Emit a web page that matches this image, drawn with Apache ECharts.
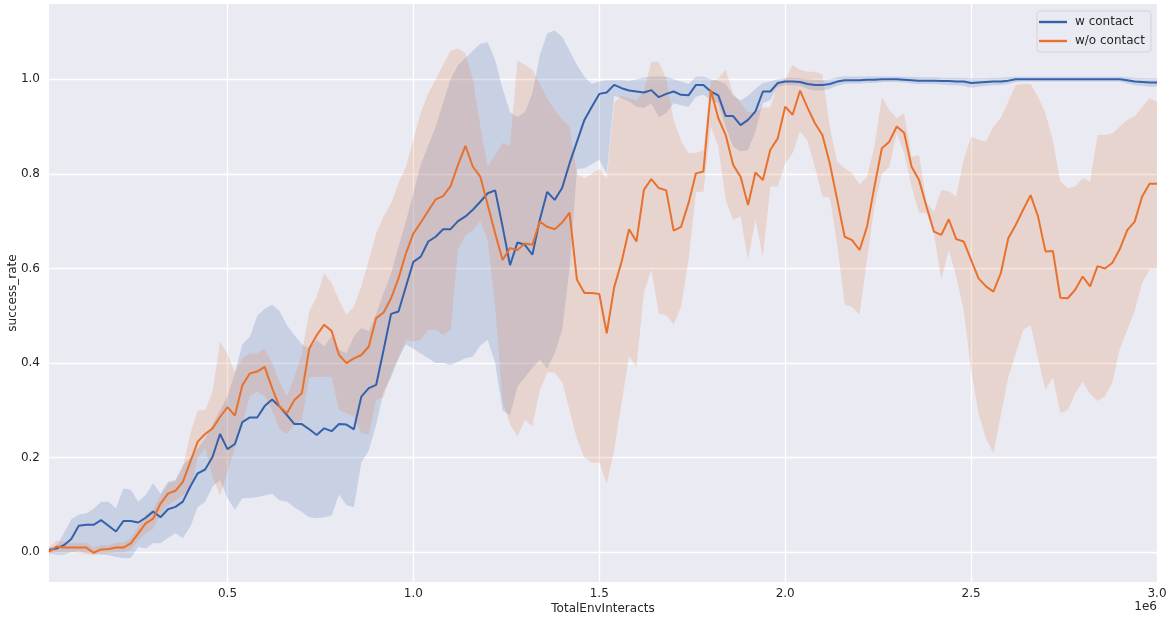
<!DOCTYPE html>
<html>
<head>
<meta charset="utf-8">
<script src="https://cdn.jsdelivr.net/npm/echarts@6/dist/echarts.min.js"></script>
<style>
html,body{margin:0;padding:0;background:#ffffff;}
#chart{width:1170px;height:621px;}
</style>
</head>
<body>
<div id="chart"></div>
<script>
// environment interaction counts (x)
const steps = [20000,40000,60000,80000,100000,120000,140000,160000,180000,200000,
220000,240000,260000,280000,300000,320000,340000,360000,380000,400000,
420000,440000,460000,480000,500000,520000,540000,560000,580000,600000,
620000,640000,660000,680000,700000,720000,740000,760000,780000,800000,
820000,840000,860000,880000,900000,920000,940000,960000,980000,1000000,
1020000,1040000,1060000,1080000,1100000,1120000,1140000,1160000,1180000,1200000,
1220000,1240000,1260000,1280000,1300000,1320000,1340000,1360000,1380000,1400000,
1420000,1440000,1460000,1480000,1500000,1520000,1540000,1560000,1580000,1600000,
1620000,1640000,1660000,1680000,1700000,1720000,1740000,1760000,1780000,1800000,
1820000,1840000,1860000,1880000,1900000,1920000,1940000,1960000,1980000,2000000,
2020000,2040000,2060000,2080000,2100000,2120000,2140000,2160000,2180000,2200000,
2220000,2240000,2260000,2280000,2300000,2320000,2340000,2360000,2380000,2400000,
2420000,2440000,2460000,2480000,2500000,2520000,2540000,2560000,2580000,2600000,
2620000,2640000,2660000,2680000,2700000,2720000,2740000,2760000,2780000,2800000,
2820000,2840000,2860000,2880000,2900000,2920000,2940000,2960000,2980000,3000000];

// "w contact" mean success rate
const wMean = [0.005,0.008,0.015,0.028,0.056,0.058,0.058,0.068,0.056,0.044,
0.066,0.066,0.063,0.073,0.086,0.074,0.091,0.096,0.107,0.139,
0.167,0.175,0.202,0.250,0.218,0.229,0.275,0.285,0.285,0.309,
0.323,0.308,0.290,0.271,0.271,0.260,0.248,0.262,0.256,0.271,
0.270,0.260,0.329,0.347,0.354,0.428,0.504,0.509,0.562,0.614,
0.625,0.657,0.667,0.683,0.683,0.700,0.710,0.724,0.741,0.759,
0.765,0.688,0.607,0.655,0.650,0.629,0.703,0.762,0.745,0.770,
0.822,0.868,0.914,0.942,0.969,0.972,0.988,0.981,0.976,0.974,
0.972,0.977,0.962,0.969,0.974,0.967,0.966,0.988,0.988,0.974,
0.966,0.922,0.922,0.903,0.914,0.932,0.974,0.974,0.992,0.995,
0.995,0.994,0.990,0.988,0.988,0.990,0.995,0.998,0.998,0.998,
0.999,0.999,1.000,1.000,1.000,0.999,0.998,0.997,0.997,0.997,
0.996,0.996,0.995,0.995,0.992,0.993,0.994,0.995,0.995,0.997,
1.000,1.000,1.000,1.000,1.000,1.000,1.000,1.000,1.000,1.000,
1.000,1.000,1.000,1.000,1.000,0.998,0.995,0.994,0.993,0.993];
const wLo = [0.000,-0.005,-0.005,0.000,0.002,-0.001,-0.003,-0.004,-0.006,-0.010,
-0.012,-0.012,0.011,0.008,0.019,0.019,0.030,0.040,0.030,0.054,
0.096,0.107,0.139,0.153,0.114,0.090,0.114,0.114,0.117,0.120,
0.124,0.110,0.107,0.095,0.085,0.074,0.072,0.074,0.078,0.122,
0.100,0.095,0.190,0.215,0.270,0.340,0.370,0.410,0.440,0.430,
0.420,0.410,0.400,0.400,0.396,0.403,0.410,0.414,0.437,0.449,
0.400,0.300,0.290,0.350,0.370,0.390,0.407,0.389,0.420,0.470,
0.600,0.810,0.812,0.820,0.830,0.800,0.965,0.960,0.953,0.942,
0.939,0.949,0.920,0.928,0.949,0.945,0.942,0.963,0.967,0.956,
0.949,0.900,0.858,0.847,0.850,0.890,0.949,0.956,0.984,0.987,
0.987,0.986,0.980,0.976,0.976,0.980,0.986,0.990,0.991,0.991,
0.992,0.992,0.994,0.994,0.994,0.993,0.991,0.990,0.990,0.990,
0.989,0.988,0.987,0.986,0.982,0.984,0.986,0.987,0.988,0.990,
0.994,0.995,0.995,0.995,0.995,0.995,0.995,0.995,0.995,0.995,
0.995,0.995,0.995,0.995,0.995,0.991,0.987,0.986,0.984,0.984];
const wHi = [0.010,0.012,0.040,0.070,0.080,0.082,0.092,0.107,0.107,0.093,
0.135,0.132,0.107,0.121,0.146,0.124,0.149,0.153,0.184,0.200,
0.220,0.240,0.270,0.300,0.330,0.380,0.440,0.455,0.500,0.515,
0.523,0.510,0.480,0.459,0.440,0.430,0.449,0.435,0.456,0.428,
0.421,0.456,0.474,0.467,0.505,0.548,0.590,0.646,0.700,0.760,
0.820,0.860,0.900,0.950,1.000,1.030,1.045,1.060,1.075,1.078,
1.040,0.980,0.930,0.920,0.930,0.970,1.050,1.097,1.103,1.090,
1.060,1.030,1.005,0.990,0.995,0.998,0.998,0.998,0.996,1.000,
1.003,1.006,1.006,1.005,1.000,0.995,0.990,1.005,1.006,1.000,
0.997,0.990,0.965,0.955,0.965,0.980,0.992,0.995,1.000,1.002,
1.003,1.002,1.000,0.999,0.999,1.000,1.004,1.006,1.006,1.006,
1.006,1.006,1.006,1.006,1.006,1.005,1.005,1.004,1.004,1.004,
1.003,1.003,1.003,1.003,1.002,1.002,1.002,1.003,1.003,1.004,
1.005,1.005,1.005,1.005,1.005,1.005,1.005,1.005,1.005,1.005,
1.005,1.005,1.005,1.005,1.005,1.004,1.003,1.002,1.002,1.002];

// "w/o contact" mean success rate
const oMean = [0.001,0.012,0.010,0.010,0.010,0.010,-0.001,0.006,0.007,0.010,
0.010,0.019,0.040,0.061,0.071,0.103,0.124,0.130,0.149,0.191,
0.234,0.250,0.262,0.286,0.307,0.289,0.353,0.378,0.382,0.392,
0.347,0.308,0.294,0.322,0.336,0.431,0.459,0.481,0.468,0.417,
0.400,0.410,0.417,0.435,0.495,0.507,0.537,0.579,0.632,0.674,
0.697,0.722,0.746,0.753,0.774,0.819,0.859,0.815,0.794,0.734,
0.674,0.618,0.643,0.639,0.653,0.650,0.699,0.688,0.683,0.697,
0.718,0.576,0.548,0.548,0.546,0.463,0.560,0.614,0.683,0.657,
0.766,0.789,0.770,0.765,0.680,0.688,0.738,0.801,0.805,0.977,
0.918,0.882,0.819,0.794,0.734,0.803,0.787,0.851,0.875,0.942,
0.925,0.976,0.940,0.907,0.882,0.822,0.745,0.667,0.660,0.639,
0.688,0.773,0.854,0.868,0.900,0.887,0.815,0.787,0.731,0.678,
0.671,0.704,0.662,0.657,0.618,0.579,0.562,0.551,0.590,0.664,
0.692,0.724,0.755,0.710,0.636,0.637,0.538,0.537,0.555,0.583,
0.562,0.605,0.600,0.612,0.641,0.681,0.699,0.752,0.779,0.779];
const oLo = [-0.005,0.000,0.000,0.000,-0.002,-0.004,-0.006,-0.004,-0.002,0.000,
0.000,0.005,0.025,0.040,0.050,0.080,0.100,0.110,0.120,0.130,
0.200,0.220,0.160,0.120,0.170,0.220,0.270,0.330,0.340,0.330,
0.300,0.260,0.250,0.270,0.280,0.370,0.371,0.371,0.371,0.301,
0.294,0.287,0.252,0.250,0.322,0.329,0.378,0.410,0.450,0.445,
0.450,0.470,0.470,0.460,0.470,0.640,0.670,0.680,0.700,0.660,
0.520,0.320,0.270,0.244,0.280,0.266,0.343,0.380,0.380,0.360,
0.300,0.240,0.200,0.190,0.190,0.145,0.216,0.316,0.414,0.392,
0.548,0.597,0.505,0.501,0.481,0.519,0.618,0.762,0.762,0.900,
0.858,0.745,0.703,0.710,0.618,0.703,0.625,0.773,0.773,0.822,
0.844,0.890,0.870,0.815,0.752,0.750,0.650,0.523,0.519,0.502,
0.618,0.731,0.800,0.815,0.886,0.844,0.773,0.717,0.717,0.674,
0.576,0.639,0.583,0.512,0.385,0.294,0.240,0.210,0.290,0.370,
0.420,0.470,0.480,0.410,0.343,0.370,0.294,0.301,0.336,0.360,
0.335,0.320,0.330,0.360,0.430,0.470,0.510,0.570,0.598,0.600];
const oHi = [0.010,0.025,0.022,0.020,0.020,0.020,0.010,0.015,0.015,0.020,
0.020,0.030,0.055,0.080,0.090,0.120,0.145,0.150,0.180,0.250,
0.300,0.300,0.340,0.445,0.420,0.380,0.410,0.420,0.420,0.430,
0.400,0.360,0.330,0.370,0.420,0.509,0.540,0.590,0.569,0.533,
0.502,0.519,0.562,0.618,0.674,0.710,0.738,0.780,0.815,0.872,
0.930,0.970,1.000,1.030,1.060,1.065,1.055,1.000,0.900,0.815,
0.840,0.865,0.860,1.040,1.030,1.020,0.990,0.960,0.935,0.915,
0.900,0.800,0.790,0.800,0.810,0.790,0.950,0.965,0.960,0.955,
0.975,1.037,1.037,1.000,0.914,0.870,0.844,0.844,0.850,0.995,
1.002,1.020,0.970,0.950,0.930,0.930,0.940,0.940,0.990,1.000,
1.030,1.020,1.016,1.016,1.010,0.900,0.825,0.812,0.801,0.777,
0.794,0.858,0.963,0.935,0.918,0.928,0.836,0.840,0.740,0.720,
0.766,0.763,0.752,0.829,0.879,0.872,0.868,0.900,0.918,0.953,
0.988,0.990,0.990,0.963,0.928,0.870,0.784,0.770,0.773,0.791,
0.784,0.882,0.882,0.886,0.900,0.914,0.921,0.942,0.960,0.953];

const seriesNames = ['w contact', 'w/o contact'];
const xTicks = [500000, 1000000, 1500000, 2000000, 2500000, 3000000];
const yTicks = [0, 0.2, 0.4, 0.6, 0.8, 1.0];

const BLUE = '#3561ab';
const ORANGE = '#e8712d';
const BLUE_FILL = 'rgba(64,104,172,0.2)';
const ORANGE_FILL = 'rgba(224,124,72,0.2)';
const FONT = 'DejaVu Sans';
const TXT = '#262626';

function bandSeries(name, lo, hi, fill) {
  return {
    type: 'custom',
    name: name,
    silent: true,
    z: 1,
    data: steps.map((x, i) => [x, lo[i], hi[i]]),
    encode: { x: 0, y: [1, 2] },
    renderItem: function (params, api) {
      if (params.dataIndex !== 0) return;
      const pts = [];
      for (let i = 0; i < steps.length; i++) pts.push(api.coord([steps[i], hi[i]]));
      for (let i = steps.length - 1; i >= 0; i--) pts.push(api.coord([steps[i], lo[i]]));
      return { type: 'polygon', shape: { points: pts }, style: { fill: fill } };
    }
  };
}

function lineSeries(name, vals, color, z) {
  return {
    type: 'line',
    name: name,
    data: steps.map((x, i) => [x, vals[i]]),
    symbol: 'none',
    showSymbol: false,
    z: z,
    itemStyle: { color: color },
    lineStyle: { color: color, width: 2 }
  };
}

const chart = echarts.init(document.getElementById('chart'), null, { renderer: 'canvas' });
chart.setOption({
  animation: false,
  backgroundColor: '#ffffff',
  textStyle: { fontFamily: FONT },
  grid: {
    left: 49, right: 13, top: 4, bottom: 39,
    outerBoundsMode: 'none',
    containLabel: false,
    show: true, backgroundColor: '#EAEAF2', borderWidth: 0
  },
  legend: {
    data: seriesNames,
    orient: 'vertical',
    left: 1037, top: 11,
    icon: 'rect',
    itemWidth: 28, itemHeight: 2.4,
    itemGap: 5,
    padding: [4, 6, 4, 2],
    backgroundColor: 'rgba(234,234,242,0.85)',
    borderColor: '#d2d2da',
    borderWidth: 1,
    borderRadius: 3,
    textStyle: { fontFamily: FONT, fontSize: 12, color: TXT, lineHeight: 14, padding: [0, 0, 0, 3] }
  },
  xAxis: {
    type: 'value',
    min: 20000, max: 3000000,
    name: 'TotalEnvInteracts',
    nameLocation: 'middle',
    nameGap: 21,
    nameMoveOverlap: false,
    nameTextStyle: { fontFamily: FONT, fontSize: 12, color: TXT },
    axisLine: { show: false },
    axisTick: { show: false, customValues: xTicks },
    axisLabel: {
      customValues: xTicks,
      margin: 6,
      fontFamily: FONT, fontSize: 12, color: TXT,
      formatter: v => (v / 1e6).toFixed(1)
    },
    splitLine: { show: true, lineStyle: { color: '#ffffff', width: 1.3 } }
  },
  yAxis: {
    type: 'value',
    min: -0.0628, max: 1.159,
    name: 'success_rate',
    nameLocation: 'middle',
    nameGap: 30,
    nameRotate: 90,
    nameMoveOverlap: false,
    nameTextStyle: { fontFamily: FONT, fontSize: 12, color: TXT },
    axisLine: { show: false },
    axisTick: { show: false, customValues: yTicks },
    axisLabel: {
      customValues: yTicks,
      margin: 9,
      fontFamily: FONT, fontSize: 12, color: TXT,
      formatter: v => v.toFixed(1)
    },
    splitLine: { show: true, lineStyle: { color: '#ffffff', width: 1.3 } }
  },
  graphic: [{
    type: 'text',
    right: 13, top: 601,
    style: { text: '1e6', font: '12px "DejaVu Sans"', fill: TXT }
  }],
  series: [
    bandSeries('w contact band', wLo, wHi, BLUE_FILL),
    bandSeries('w/o contact band', oLo, oHi, ORANGE_FILL),
    lineSeries(seriesNames[0], wMean, BLUE, 3),
    lineSeries(seriesNames[1], oMean, ORANGE, 4)
  ]
});
</script>
</body>
</html>
